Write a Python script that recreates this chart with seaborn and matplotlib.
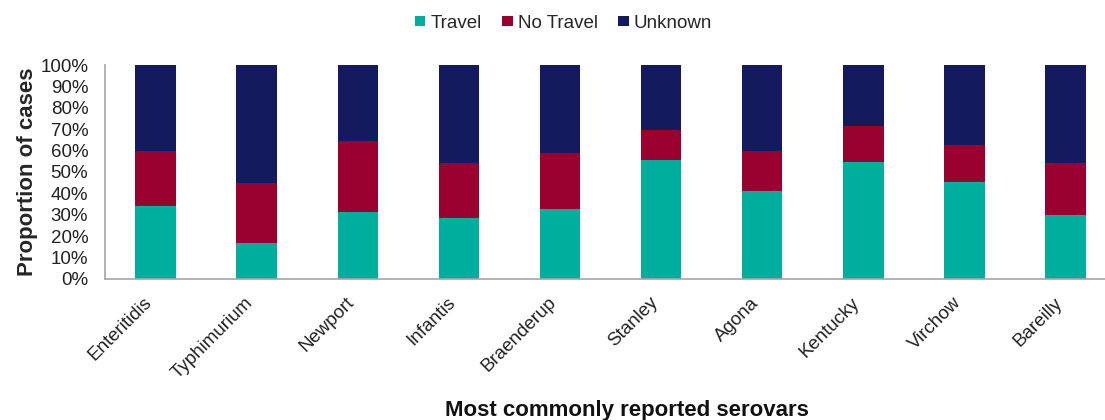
import matplotlib
matplotlib.use("Agg")
import matplotlib.pyplot as plt
import seaborn as sns
import pandas as pd
import numpy as np
from matplotlib.patches import Patch
from matplotlib.ticker import FixedLocator, PercentFormatter

serovars = ["Enteritidis", "Typhimurium", "Newport", "Infantis", "Braenderup",
            "Stanley", "Agona", "Kentucky", "Virchow", "Bareilly"]
travel = [34.3, 17.0, 31.4, 28.5, 32.8, 55.5, 40.9, 54.9, 45.1, 29.8]
no_travel = [25.5, 27.9, 32.9, 25.5, 26.2, 14.1, 18.9, 16.7, 17.3, 24.2]
unknown = [100 - t - n for t, n in zip(travel, no_travel)]

series_names = ["Travel", "No Travel", "Unknown"]
colors = ["#00AE9E", "#990030", "#131A5E"]

sns.set_style("white")
plt.rcParams["font.family"] = ["Liberation Sans", "DejaVu Sans"]

df = pd.DataFrame({"serovar": serovars, "Travel": travel,
                   "No Travel": no_travel, "Unknown": unknown})
df["c1"] = df["Travel"]
df["c2"] = df["Travel"] + df["No Travel"]
df["c3"] = df["c2"] + df["Unknown"]

fig = plt.figure(figsize=(11.05, 4.2), dpi=100)
ax = fig.add_axes([0.095, 0.336, 0.905, 0.509])

for col, color in zip(["c3", "c2", "c1"], colors[::-1]):
    sns.barplot(data=df, x="serovar", y=col, order=serovars, color=color,
                width=0.4, ax=ax, saturation=1, edgecolor="none")

ax.set_ylim(0, 100)
ax.set_xlim(-0.5, 9.39)
ax.yaxis.set_major_locator(FixedLocator(np.arange(0, 101, 10)))
ax.yaxis.set_major_formatter(PercentFormatter(decimals=0))
ax.tick_params(axis="y", length=4, width=1, color="#BFBFBF", labelsize=13.5, pad=8,
               labelcolor="#222222", direction="out")
ax.set_xticks(range(len(serovars)))
ax.set_xticklabels(serovars, rotation=45, ha="right", fontsize=13.5, color="#222222")
ax.tick_params(axis="x", which="major", length=0, pad=11)
ax.xaxis.set_minor_locator(FixedLocator(np.arange(-0.5, 9.6, 1.0)))
ax.tick_params(axis="x", which="minor", length=5, color="#A6A6A6", width=1, direction="out")

for s in ["top", "right"]:
    ax.spines[s].set_visible(False)
for s in ["left", "bottom"]:
    ax.spines[s].set_color("#A6A6A6")
    ax.spines[s].set_linewidth(1.2)

ax.set_ylabel("Proportion of cases", fontsize=16, fontweight="bold", labelpad=2)
ax.set_xlabel("")
ax.grid(False)

fig.text(0.567, 4.0 / 420, "Most commonly reported serovars", ha="center", va="baseline",
         fontsize=16, fontweight="bold", color="#111111")

handles = [Patch(facecolor=c, edgecolor="none") for c in colors]
fig.legend(handles, series_names, loc="center", bbox_to_anchor=(0.510, 0.945), ncol=3,
           frameon=False, fontsize=13.5, handlelength=0.55, handleheight=0.5,
           handletextpad=0.27, columnspacing=1.1)

fig.savefig("out.png", dpi=100)
